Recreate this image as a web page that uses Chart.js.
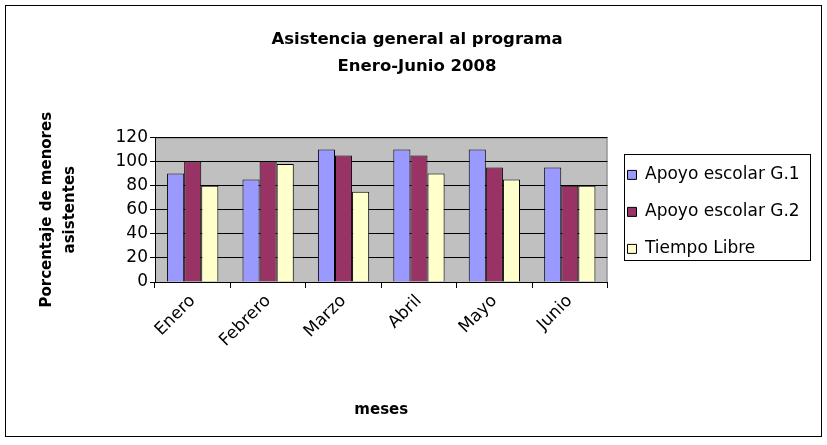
<!DOCTYPE html>
<html>
<head>
<meta charset="utf-8">
<script src="https://cdn.jsdelivr.net/npm/chart.js@4"></script>
<style>
body{margin:0;background:#fff;}
#wrap{width:827px;height:445px;}
</style>
</head>
<body>
<div id="wrap"><canvas id="myChart" width="827" height="445"></canvas></div>
<script>
// datos
var meses = ["Enero", "Febrero", "Marzo", "Abril", "Mayo", "Junio"];
var grupo1 = [90, 85, 110, 110, 110, 95];
var grupo2 = [100, 100, 105, 105, 95, 80];
var tiempoLibre = [80, 98, 75, 90, 85, 80];
var yTicks = [0, 20, 40, 60, 80, 100, 120];

var tickFont = "'DejaVu Sans', sans-serif";
var boldFont = "'DejaVu Sans', sans-serif";

// fondo gris del area de trazado + marco exterior + marco leyenda
var marcos = {
  id: "marcos",
  beforeDraw: function(chart) {
    var ctx = chart.ctx;
    var a = chart.chartArea;
    ctx.save();
    ctx.fillStyle = "#fff";
    ctx.fillRect(0, 0, chart.width, chart.height);
    ctx.fillStyle = "#c0c0c0";
    ctx.fillRect(a.left, a.top, a.right - a.left, a.bottom - a.top);
    ctx.strokeStyle = "#808080";
    ctx.lineWidth = 1;
    ctx.strokeRect(a.left + 0.5, a.top + 0.5, a.right - a.left - 1, a.bottom - a.top);
    ctx.strokeStyle = "#000";
    ctx.strokeRect(5.5, 5.5, chart.width - 11, chart.height - 14);
    ctx.restore();
  },
  afterDraw: function(chart) {
    var hb = chart.legend.legendHitBoxes;
    if (!hb || !hb.length) return;
    var last = hb[hb.length - 1];
    var l = Math.round(hb[0].left) - 4;
    var t = Math.round(hb[0].top) - 12;
    var r = Math.round(chart.legend.right) + 12;
    var b = Math.round(last.top + last.height) + 3;
    var ctx = chart.ctx;
    ctx.save();
    ctx.strokeStyle = "#000";
    ctx.lineWidth = 1;
    ctx.strokeRect(l + 0.5, t + 0.5, r - l, b - t);
    ctx.restore();
  }
};

new Chart("myChart", {
  type: "bar",
  data: {
    labels: meses,
    datasets: [{
      label: "Apoyo escolar G.1",
      data: grupo1,
      backgroundColor: "#9999ff",
      borderColor: "#000",
      borderWidth: 1
    }, {
      label: "Apoyo escolar G.2",
      data: grupo2,
      backgroundColor: "#993366",
      borderColor: "#000",
      borderWidth: 1
    }, {
      label: "Tiempo Libre",
      data: tiempoLibre,
      backgroundColor: "#ffffcc",
      borderColor: "#000",
      borderWidth: 1
    }]
  },
  options: {
    responsive: false,
    animation: false,
    layout: { padding: { left: 36, right: 29, top: 16, bottom: 22 } },
    datasets: { bar: { categoryPercentage: 0.68, barPercentage: 1 } },
    plugins: {
      title: {
        display: true,
        text: ["Asistencia general al programa", "Enero-Junio 2008"],
        color: "#000",
        font: { family: boldFont, size: 16.5, weight: "bold", lineHeight: 1.65 },
        padding: { top: 10, bottom: 57 }
      },
      legend: {
        position: "right",
        align: "start",
        title: { display: true, text: "", font: { size: 12 }, padding: { top: 116, bottom: 0 } },
        labels: {
          color: "#000",
          boxWidth: 9,
          boxHeight: 9,
          padding: 20,
          font: { family: tickFont, size: 17 }
        }
      },
      tooltip: { enabled: false }
    },
    scales: {
      x: {
        afterFit: function(scale) { scale.height = 141; },
        grid: { drawOnChartArea: false, color: "#000", tickLength: 6 },
        border: { color: "#000" },
        ticks: { color: "#000", maxRotation: 45, minRotation: 45, font: { family: tickFont, size: 17 } },
        title: { display: true, text: "meses", color: "#000", font: { family: boldFont, size: 15, weight: "bold" }, padding: { top: 14 } }
      },
      y: {
        min: 0,
        max: 120,
        afterFit: function(scale) { scale.width = 119; },
        afterBuildTicks: function(scale) {
          scale.ticks = yTicks.map(function(v) { return { value: v }; });
        },
        grid: { color: "#000", tickLength: 5 },
        border: { color: "#000" },
        ticks: { color: "#000", padding: 2, font: { family: tickFont, size: 17 } },
        title: { display: true, text: ["Porcentaje de menores", "asistentes"], color: "#000", font: { family: boldFont, size: 15, weight: "bold", lineHeight: 1.5 }, padding: { top: 0, bottom: 10 } }
      }
    }
  },
  plugins: [marcos]
});
</script>
</body>
</html>
